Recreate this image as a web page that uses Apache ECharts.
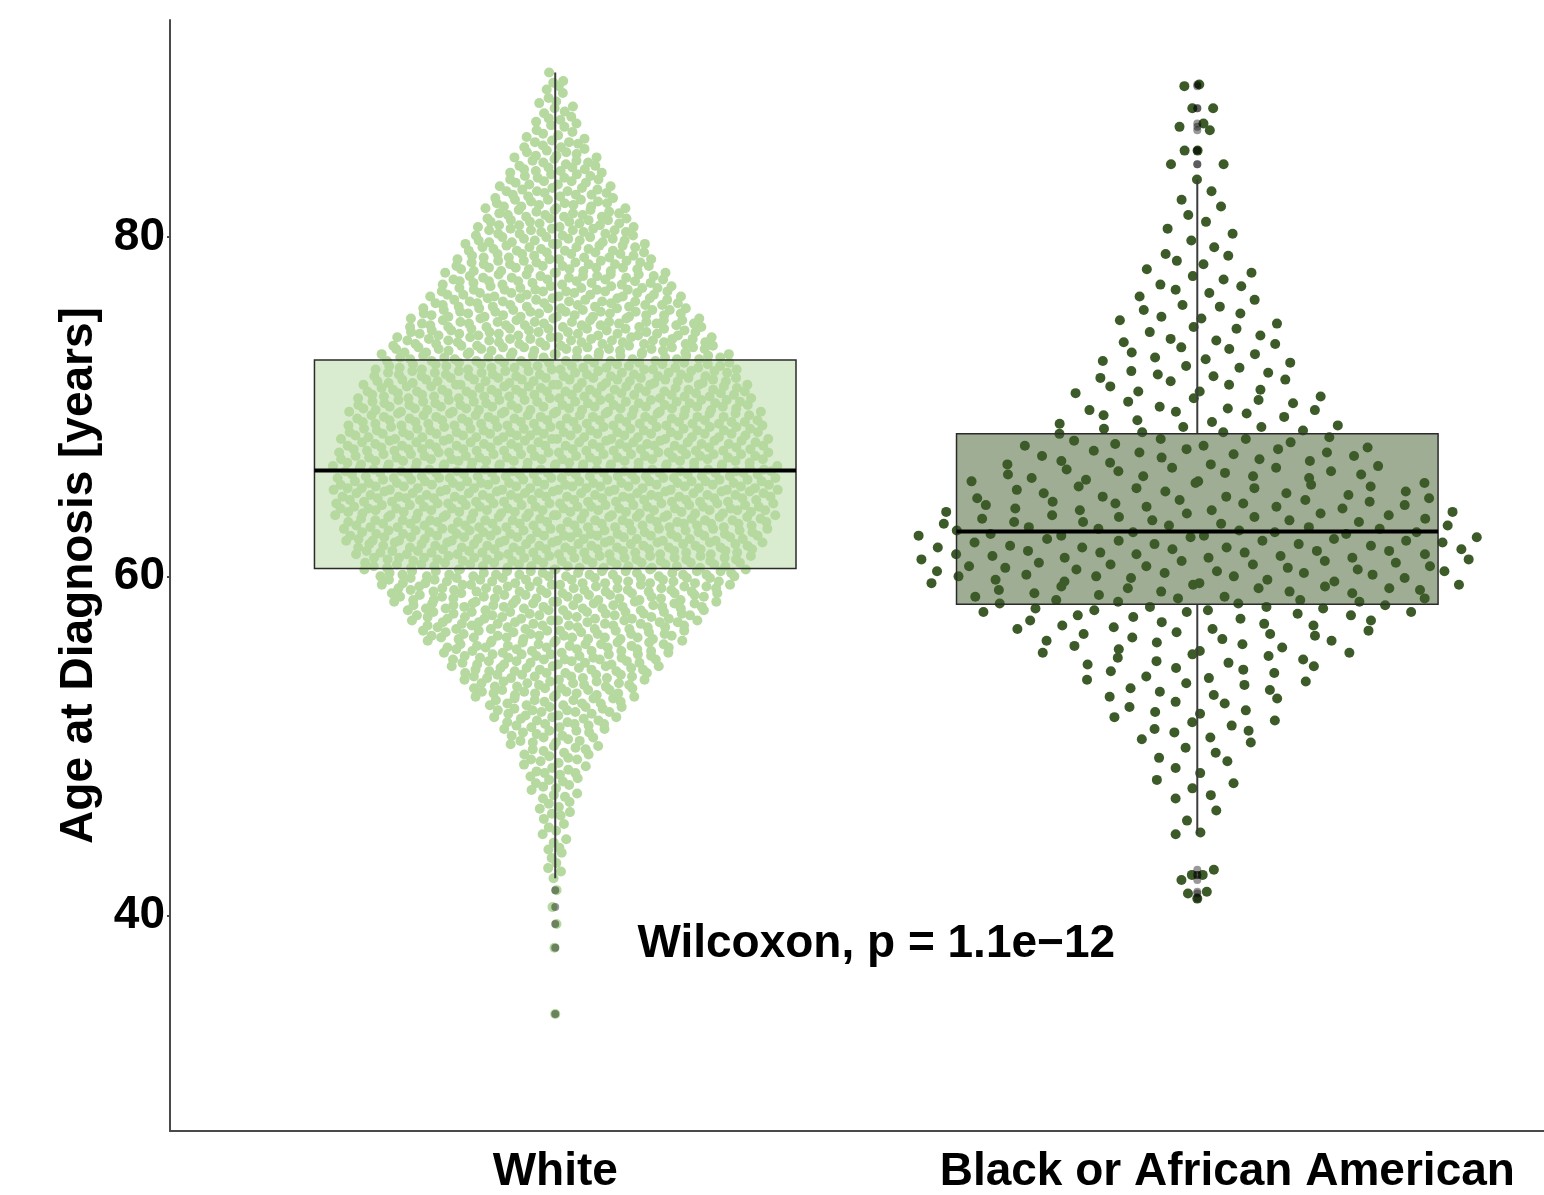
<!DOCTYPE html>
<html>
<head>
<meta charset="utf-8">
<script src="https://cdn.jsdelivr.net/npm/echarts@6/dist/echarts.min.js"></script>
<style>
  html, body { margin: 0; padding: 0; background: #ffffff; }
  #chart { width: 1544px; height: 1195px; }
</style>
</head>
<body>
<div id="chart"></div>
<script>
// Group names, in axis order (x = 1, 2)
const categories = ['White', 'Black or African American'];

// White patients: number of patients at each age, recorded to 0.1 year.
// Each row: [whole year, count at .0, .1, .2, ... .9]
const whiteAgeTable = [
  [34, 0,0,1,0,0,0,0,0,0,0],
  [38, 0,1,0,0,0,0,0,0,0,0],
  [39, 0,0,0,0,0,1,0,0,0,0],
  [40, 0,0,0,0,0,1,0,0,0,0],
  [41, 0,0,0,0,0,1,0,0,0,0],
  [42, 0,0,1,0,0,0,1,0,1,0],
  [43, 0,1,0,0,1,0,0,1,0,1],
  [44, 1,0,0,1,0,1,0,0,1,0],
  [45, 1,0,1,0,1,0,0,1,0,1],
  [46, 1,1,0,1,1,0,1,1,0,1],
  [47, 1,1,1,0,1,1,1,1,1,1],
  [48, 1,1,1,1,2,1,1,1,1,1],
  [49, 1,1,2,1,1,2,1,1,2,1],
  [50, 2,1,2,2,1,2,2,1,2,2],
  [51, 2,2,2,3,2,2,2,3,2,2],
  [52, 3,3,2,3,3,3,2,3,3,3],
  [53, 3,4,3,3,4,3,3,4,3,3],
  [54, 4,4,4,4,3,4,4,4,4,4],
  [55, 4,5,4,4,5,4,5,4,5,4],
  [56, 5,5,4,5,6,5,5,4,6,5],
  [57, 5,6,5,6,5,6,5,6,5,6],
  [58, 6,6,6,6,7,6,6,6,6,6],
  [59, 7,6,7,7,6,7,7,6,7,7],
  [60, 7,8,7,8,7,7,8,7,8,7],
  [61, 8,9,7,8,8,9,7,8,8,8],
  [62, 8,9,8,8,9,8,8,9,8,8],
  [63, 8,9,8,9,8,9,8,9,8,9],
  [64, 9,9,8,9,9,8,9,9,8,9],
  [65, 8,9,9,9,8,9,9,8,9,9],
  [66, 9,8,9,8,9,8,9,8,9,8],
  [67, 8,8,9,8,8,9,8,8,9,8],
  [68, 8,8,8,9,8,8,8,8,8,8],
  [69, 8,9,8,7,8,8,8,8,8,8],
  [70, 8,8,7,8,8,8,7,8,8,8],
  [71, 8,7,7,8,7,7,8,7,8,7],
  [72, 7,7,8,7,6,7,7,7,7,7],
  [73, 7,6,7,6,7,6,7,6,7,6],
  [74, 6,6,6,6,6,5,6,6,6,6],
  [75, 6,5,5,6,5,5,6,5,6,5],
  [76, 5,5,5,4,5,5,5,4,5,5],
  [77, 5,4,4,4,5,4,4,5,4,4],
  [78, 4,4,4,4,4,4,4,4,4,3],
  [79, 4,3,4,3,4,3,4,3,4,3],
  [80, 3,3,3,3,4,3,3,3,3,3],
  [81, 3,3,3,3,3,2,3,3,3,2],
  [82, 3,2,3,2,2,3,2,3,2,2],
  [83, 2,2,2,2,2,2,2,2,2,2],
  [84, 2,2,2,1,2,2,1,2,2,1],
  [85, 2,1,1,2,1,1,2,1,1,1],
  [86, 1,1,1,1,0,1,1,1,1,1],
  [87, 1,1,0,1,1,0,1,1,0,1],
  [88, 1,0,1,0,0,1,0,1,0,1],
  [89, 0,1,1,0,0,0,0,1,0,0]
];

// Black or African American patients: age at diagnosis (years)
const blackAges = [
41.0,41.3,41.4,42.1,42.4,42.4,42.7,
44.8,44.9,45.6,46.2,46.9,47.1,47.5,47.8,48.0,48.4,48.7,
49.1,49.3,49.6,49.9,50.2,50.4,50.5,50.8,50.9,
51.0,51.2,51.4,51.5,51.7,51.9,52.0,52.1,52.3,52.5,52.6,52.8,52.9,
53.0,53.2,53.3,53.4,53.6,53.7,53.8,53.9,
54.0,54.1,54.3,54.4,54.5,54.6,54.7,54.8,54.9,
55.0,55.1,55.2,55.3,55.4,55.5,55.5,55.6,55.7,55.8,55.9,
56.0,56.1,56.2,56.2,56.3,56.4,56.5,56.6,56.6,56.7,56.8,56.9,56.9,
57.0,57.1,57.1,57.2,57.3,57.4,57.4,57.5,57.6,57.7,57.7,57.8,57.9,57.9,57.9,
58.0,58.0,58.1,58.1,58.2,58.2,58.3,58.4,58.4,58.5,58.5,58.6,58.6,58.7,58.7,58.8,58.8,58.9,
59.0,59.0,59.1,59.1,59.2,59.2,59.3,59.3,59.3,59.4,59.4,59.5,59.5,59.6,59.6,59.7,59.7,59.8,59.8,59.9,59.9,
60.0,60.0,60.0,60.1,60.1,60.2,60.2,60.3,60.3,60.3,60.4,60.4,60.5,60.5,60.6,60.6,60.6,60.7,60.7,60.8,60.8,60.9,60.9,
61.0,61.0,61.1,61.1,61.1,61.2,61.2,61.3,61.3,61.3,61.4,61.4,61.5,61.5,61.5,61.6,61.6,61.7,61.7,61.7,61.8,61.8,61.9,61.9,
62.0,62.0,62.1,62.1,62.1,62.2,62.2,62.3,62.3,62.4,62.4,62.4,62.5,62.5,62.6,62.6,62.6,62.7,62.7,62.8,62.8,62.9,62.9,
63.0,63.0,63.1,63.1,63.2,63.2,63.2,63.3,63.3,63.4,63.4,63.5,63.5,63.6,63.6,63.7,63.7,63.8,63.8,63.9,63.9,
64.0,64.0,64.1,64.1,64.2,64.2,64.3,64.3,64.4,64.4,64.5,64.5,64.6,64.6,64.7,64.7,64.8,64.9,64.9,
65.0,65.0,65.1,65.2,65.2,65.3,65.3,65.4,65.5,65.5,65.6,65.6,65.7,65.8,65.8,65.9,65.9,
66.0,66.0,66.1,66.2,66.2,66.3,66.4,66.4,66.5,66.6,66.6,66.7,66.8,66.8,66.9,
67.0,67.1,67.1,67.2,67.3,67.3,67.4,67.5,67.5,67.6,67.7,67.7,67.8,67.9,
68.0,68.1,68.1,68.2,68.4,68.5,68.5,68.6,68.7,68.8,68.8,68.9,
69.0,69.1,69.2,69.4,69.5,69.6,69.7,69.8,69.8,69.9,
70.0,70.2,70.3,70.4,70.5,70.6,70.8,70.9,70.9,
71.0,71.2,71.3,71.5,71.6,71.7,71.8,71.9,
72.0,72.1,72.3,72.4,72.6,72.7,72.8,72.9,
73.1,73.2,73.4,73.5,73.7,73.8,73.9,
74.0,74.2,74.4,74.6,74.7,74.9,
75.1,75.2,75.3,75.5,75.7,75.9,
76.0,76.3,76.5,76.7,76.9,
77.1,77.2,77.5,77.7,77.9,
78.1,78.4,78.6,78.9,
79.0,79.4,79.8,
80.2,80.5,80.9,
81.3,81.8,
82.2,82.7,
83.4,
84.3,84.3,85.1,85.1,86.3,86.5,86.7,87.6,87.6,88.9,89.0
];

// Box summaries: [lower whisker, Q1, median, Q3, upper whisker]
const whiteBox = [42.2, 60.47, 66.24, 72.76, 89.7];
const blackBox = [44.8, 58.35, 62.65, 68.4, 83.4];

// Values beyond 1.5 x IQR, drawn on the box centre line
const whiteOutliers = [34.2, 38.1, 39.5, 40.5, 41.5];
const blackOutliers = [41.0, 41.3, 41.4, 42.1, 42.4, 42.4, 42.7,
                       84.3, 84.3, 85.1, 85.1, 86.3, 86.5, 86.7, 87.6, 87.6, 88.9, 89.0];

// Y-axis tick labels
const yTicks = [40, 60, 80];

// Test result printed in the plot
const testLabel = 'Wilcoxon, p = 1.1e\u221212';

const FONT = "'Liberation Sans', Arial, Helvetica, sans-serif";
const WHITE_COLOR = '#b5d99f';
const BLACK_COLOR = '#3d5b29';
const BOX_HALF = 0.375;

// Expand a [year, counts per tenth] table into one age per patient
function agesFromTable(table) {
  const out = [];
  table.forEach(row => {
    const year = row[0];
    for (let k = 0; k < 10; k++) {
      for (let c = 0; c < row[k + 1]; c++) out.push((year * 10 + k) / 10);
    }
  });
  return out;
}

// Van der Corput sequence (base 2) used to spread points sideways
function vanDerCorput(n) {
  let v = 0, denom = 1;
  while (n > 0) {
    denom *= 2;
    v += (n % 2) / denom;
    n = Math.floor(n / 2);
  }
  return v;
}

function quantile(sorted, p) {
  const h = (sorted.length - 1) * p;
  const lo = Math.floor(h), hi = Math.ceil(h);
  return sorted[lo] + (sorted[hi] - sorted[lo]) * (h - lo);
}

// Quasirandom (violin-shaped) horizontal offsets, scaled by a Gaussian KDE
function quasirandom(ages, centre, halfWidth) {
  const n = ages.length;
  const sorted = ages.slice().sort((a, b) => a - b);
  const mean = ages.reduce((s, v) => s + v, 0) / n;
  const sd = Math.sqrt(ages.reduce((s, v) => s + (v - mean) * (v - mean), 0) / (n - 1));
  const iqr = quantile(sorted, 0.75) - quantile(sorted, 0.25);
  const bw = 0.9 * Math.min(sd, iqr / 1.34) * Math.pow(n, -0.2);
  const dens = a => {
    let s = 0;
    for (let i = 0; i < n; i++) {
      const z = (a - ages[i]) / bw;
      s += Math.exp(-0.5 * z * z);
    }
    return s;
  };
  const d = ages.map(dens);
  const maxD = Math.max.apply(null, d);
  const order = ages.map((v, i) => i).sort((a, b) => ages[a] - ages[b] || a - b);
  const pts = new Array(n);
  order.forEach((idx, rank) => {
    const off = (vanDerCorput(rank + 1) - 0.5) * 2 * halfWidth * d[idx] / maxD;
    pts[idx] = [centre + off, ages[idx]];
  });
  return pts;
}

const whiteAges = agesFromTable(whiteAgeTable);
const whitePoints = quasirandom(whiteAges, 1, 0.35);
const blackPoints = quasirandom(blackAges, 2, 0.45);

const boxData = [
  [1].concat(whiteBox),
  [2].concat(blackBox)
];
const boxColors = [WHITE_COLOR, BLACK_COLOR];

const outlierData = whiteOutliers.map(v => [1, v]).concat(blackOutliers.map(v => [2, v]));

const labelText = { fontSize: 46, fontWeight: 'bold', fontFamily: FONT, color: '#000000' };

const chart = echarts.init(document.getElementById('chart'), null, { renderer: 'canvas' });

chart.setOption({
  animation: false,
  backgroundColor: '#ffffff',
  grid: { left: 170, right: 0, top: 20, bottom: 62, containLabel: false },
  xAxis: {
    type: 'value',
    min: 0.4,
    max: 2.54,
    splitLine: { show: false },
    axisLine: { show: true, onZero: false, lineStyle: { color: '#4a4a4a', width: 2 } },
    axisTick: { show: false },
    axisLabel: {
      customValues: [1, 2],
      formatter: v => {
        const i = Math.round(v) - 1;
        return i === 1 ? '{b|' + categories[i] + '}' : '{a|' + (categories[i] || '') + '}';
      },
      margin: 18,
      hideOverlap: false,
      rich: {
        a: labelText,
        b: Object.assign({ padding: [0, 0, 0, 60] }, labelText)
      }
    }
  },
  yAxis: {
    type: 'value',
    min: 27.3,
    max: 92.8,
    name: 'Age at Diagnosis [years]',
    nameLocation: 'middle',
    nameGap: 68,
    nameRotate: 90,
    nameTextStyle: labelText,
    splitLine: { show: false },
    axisLine: { show: true, onZero: false, lineStyle: { color: '#4a4a4a', width: 2 } },
    axisTick: { show: true, length: 3, customValues: yTicks, lineStyle: { color: '#4a4a4a', width: 2 } },
    axisLabel: Object.assign({ customValues: yTicks, margin: 5 }, labelText)
  },
  series: [
    {
      name: categories[0],
      type: 'scatter',
      data: whitePoints,
      symbol: 'circle',
      symbolSize: 10,
      itemStyle: { color: WHITE_COLOR, opacity: 1 },
      emphasis: { disabled: true },
      z: 2
    },
    {
      name: categories[1],
      type: 'scatter',
      data: blackPoints,
      symbol: 'circle',
      symbolSize: 10,
      itemStyle: { color: BLACK_COLOR, opacity: 1 },
      emphasis: { disabled: true },
      z: 2
    },
    {
      type: 'custom',
      data: boxData,
      encode: { x: 0, y: [1, 2, 3, 4, 5] },
      z: 3,
      renderItem: (params, api) => {
        const x = api.value(0);
        const lo = api.coord([x, api.value(1)]);
        const q1 = api.coord([x, api.value(2)]);
        const md = api.coord([x, api.value(3)]);
        const q3 = api.coord([x, api.value(4)]);
        const hi = api.coord([x, api.value(5)]);
        const left = api.coord([x - BOX_HALF, api.value(3)])[0];
        const right = api.coord([x + BOX_HALF, api.value(3)])[0];
        const fill = echarts.color.modifyAlpha(boxColors[params.dataIndex], 0.5);
        return {
          type: 'group',
          children: [
            { type: 'line', shape: { x1: lo[0], y1: lo[1], x2: q1[0], y2: q1[1] },
              style: { stroke: '#3c3c3c', lineWidth: 2 } },
            { type: 'line', shape: { x1: q3[0], y1: q3[1], x2: hi[0], y2: hi[1] },
              style: { stroke: '#3c3c3c', lineWidth: 2 } },
            { type: 'rect', shape: { x: left, y: q3[1], width: right - left, height: q1[1] - q3[1] },
              style: { fill: fill, stroke: '#2b2b2b', lineWidth: 1.5 } },
            { type: 'line', shape: { x1: left, y1: md[1], x2: right, y2: md[1] },
              style: { stroke: '#000000', lineWidth: 4 } }
          ]
        };
      }
    },
    {
      type: 'scatter',
      data: outlierData,
      symbol: 'circle',
      symbolSize: 8,
      itemStyle: { color: 'rgba(0,0,0,0.5)' },
      emphasis: { disabled: true },
      z: 4
    },
    {
      type: 'custom',
      data: [[1.5, 38.3]],
      z: 5,
      renderItem: (params, api) => {
        const p = api.coord([api.value(0), api.value(1)]);
        return {
          type: 'text',
          x: p[0],
          y: p[1],
          style: {
            text: testLabel,
            fontSize: 46,
            fontWeight: 'bold',
            fontFamily: FONT,
            fill: '#000000',
            align: 'center',
            verticalAlign: 'middle'
          }
        };
      }
    }
  ]
});
</script>
</body>
</html>
